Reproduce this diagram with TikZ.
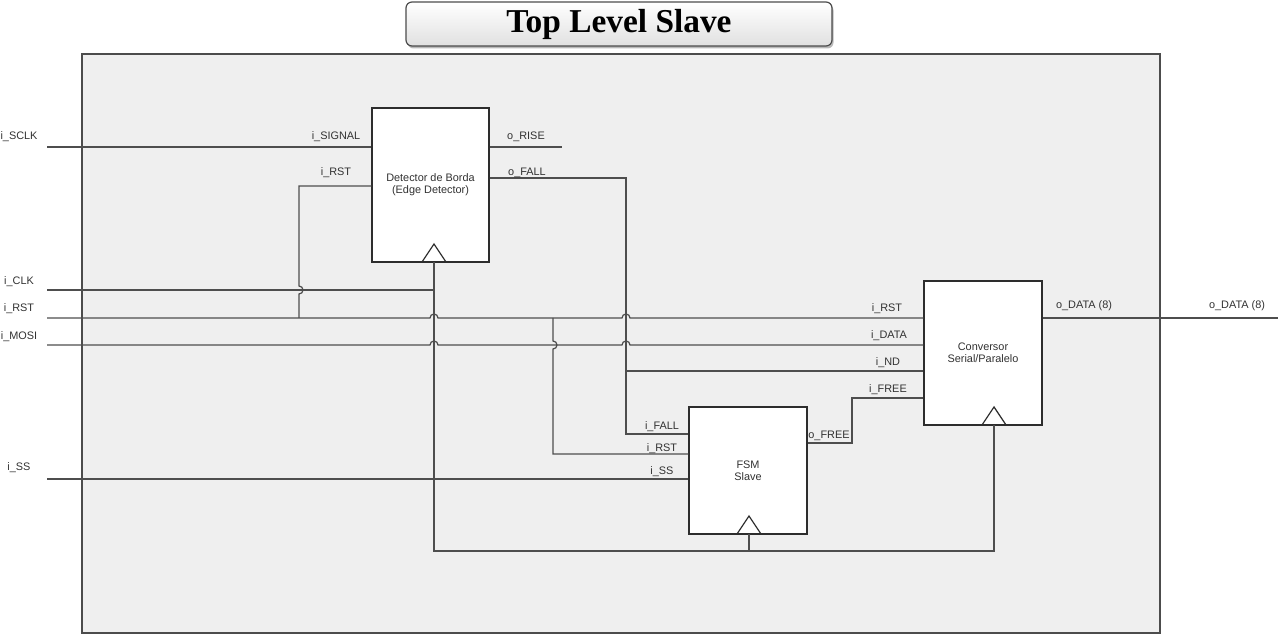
\documentclass[tikz,border=0pt]{standalone}
\usepackage{fontspec}
\setmainfont{Liberation Sans}
\newfontfamily\ttlfont{Liberation Serif}
\usetikzlibrary{positioning,calc,shadows}
\definecolor{bgbox}{RGB}{239,239,239}
\definecolor{wirec}{RGB}{78,78,78}
\definecolor{edgec}{RGB}{45,45,45}
\definecolor{txtc}{RGB}{50,50,50}
\tikzset{
  wire/.style={wirec, line width=0.7pt},
  blk/.style={draw=edgec, fill=white, line width=0.7pt, align=center, text=txtc,
              font=\fontsize{6.2}{6.9}\selectfont, inner sep=0pt},
  pin/.style={font=\fontsize{6.2}{7}\selectfont, text=txtc, inner sep=0pt},
  hopup/.style={insert path={arc[start angle=180, end angle=0, radius=0.8mm]}},
  hopr/.style={insert path={arc[start angle=90, end angle=-90, radius=0.8mm]}},
  ttlbox/.style={draw=black!70, line width=0.7pt, rounded corners=1.2mm,
                 top color=white, bottom color=black!12,
                 drop shadow={shadow xshift=0.3mm, shadow yshift=-0.5mm, opacity=0.55},
                 minimum width=85.2mm, minimum height=8.8mm, inner sep=0pt,
                 font=\ttlfont\bfseries\fontsize{19}{22}\selectfont},
  frame/.style={draw=black!70, fill=bgbox, line width=0.9pt},
}
\newcommand{\clkmark}[2]{%
  \draw[edgec, line width=0.7pt] (#1-12,#2) -- (#1,#2-18) -- (#1+12,#2);}

\begin{document}
\begin{tikzpicture}[x=0.2mm, y=-0.2mm]
    \useasboundingbox (0,0) rectangle (1280,635);
    % top level frame and title
    \draw[frame] (82,54) rectangle (1160,633);
    \node[ttlbox] (ttl) at (619,24) {Top Level Slave};
    % external pins
    \coordinate (sclk) at (47,147);
    \coordinate (clk) at (47,290);
    \coordinate (rst) at (47,318);
    \coordinate (mosi) at (47,345);
    \coordinate (ss) at (47,479);
    \coordinate (dout) at (1278,318);
    \node[pin] (lsclk) at (19,137) {i\_SCLK};
    \node[pin] (lclk) at (19,282) {i\_CLK};
    \node[pin] (lrst) at (19,309) {i\_RST};
    \node[pin] (lmosi) at (19,337) {i\_MOSI};
    \node[pin] (lss) at (19,468) {i\_SS};
    % blocks
    \node[blk, minimum width=23.4mm, minimum height=30.8mm] (ed) at (430.5,185)
         {Detector de Borda\\(Edge Detector)};
    \node[blk, minimum width=23.6mm, minimum height=25.4mm] (fsm) at (748,470.5)
         {FSM\\Slave};
    \node[blk, minimum width=23.6mm, minimum height=28.8mm] (conv) at (983,353)
         {Conversor\\Serial/Paralelo};
    % wires
    \coordinate (rise) at (562,147);
    \coordinate (fallx) at (626,178);
    \draw[wire] (sclk) -- (ed.west |- sclk);
    \draw[wire] (ed.east |- sclk) -- (rise);
    \draw[wire] (ed.west |- 0,186) -- (299,186) -- (299,286) [hopr] -- (299,318);
    \draw[wire] (ed.east |- fallx) -- (fallx) -- (626,434) -- (fsm.west |- 0,434);
    \draw[wire] (626,371) -- (conv.west |- 0,371);
    \draw[wire] (clk) -- (434,290);
    \draw[wire] (rst) -- (430,318) [hopup] -- (622,318) [hopup] -- (conv.west |- rst);
    \draw[wire] (mosi) -- (430,345) [hopup] -- (622,345) [hopup] -- (conv.west |- mosi);
    \draw[wire] (553,318) -- (553,341) [hopr] -- (553,454) -- (fsm.west |- 0,454);
    \draw[wire] (ss) -- (fsm.west |- ss);
    \draw[wire] (fsm.east |- 0,443) -- (852,443) -- (852,398) -- (conv.west |- 0,398);
    \draw[wire] (conv.east |- dout) -- (dout);
    % clock tree
    \draw[wire] (434,262) -- (434,551) -- (994,551) -- (994,425);
    \draw[wire] (749,551) -- (749,534);
    \clkmark{434}{262}
    \clkmark{749}{534}
    \clkmark{994}{425}
    % port labels
    \node[pin] (led1) at (336,137) {i\_SIGNAL};
    \node[pin] (led2) at (336,173) {i\_RST};
    \node[pin] (led3) at (526,137) {o\_RISE};
    \node[pin] (led4) at (527,173) {o\_FALL};
    \node[pin] (lfsm1) at (662,427) {i\_FALL};
    \node[pin] (lfsm2) at (662,449) {i\_RST};
    \node[pin] (lfsm3) at (662,472) {i\_SS};
    \node[pin] (lfsm4) at (829,436) {o\_FREE};
    \node[pin] (lcv1) at (887,309) {i\_RST};
    \node[pin] (lcv2) at (889,336) {i\_DATA};
    \node[pin] (lcv3) at (888,363) {i\_ND};
    \node[pin] (lcv4) at (888,390) {i\_FREE};
    \node[pin] (lcv5) at (1084,306) {o\_DATA (8)};
    \node[pin] (ldout) at (1237,306) {o\_DATA (8)};
\end{tikzpicture}
\end{document}
